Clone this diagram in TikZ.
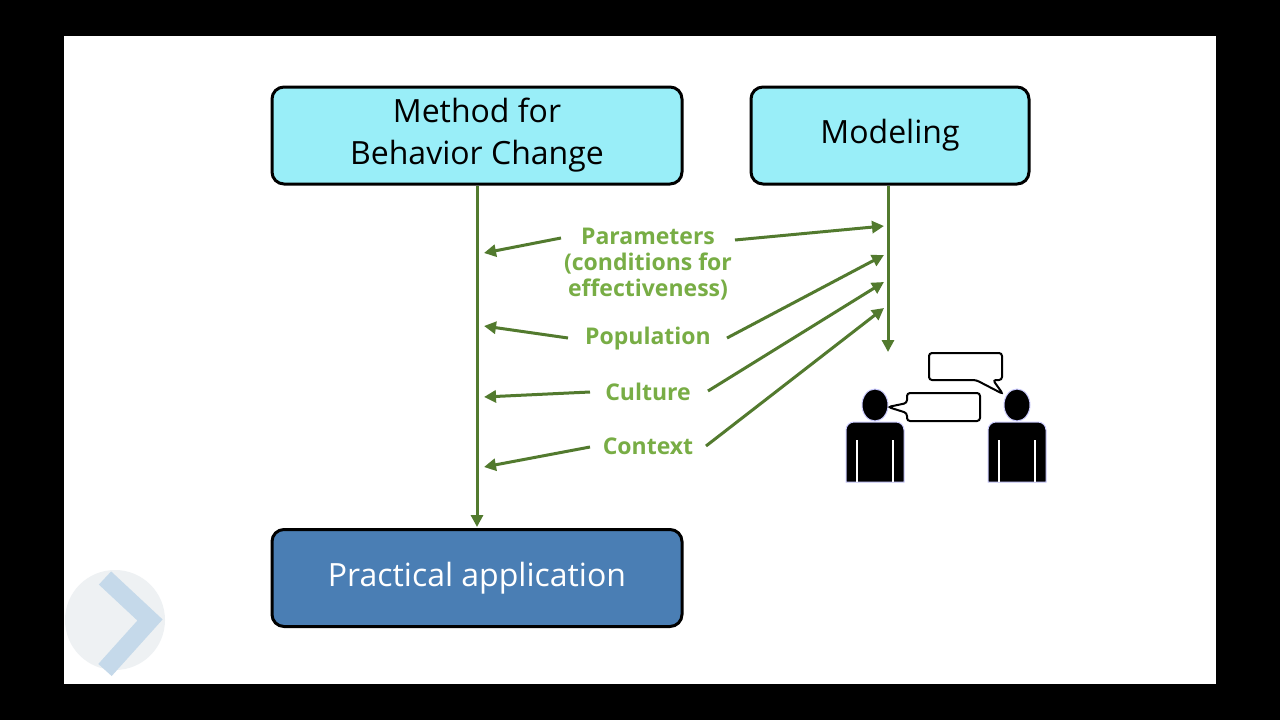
\documentclass[tikz,border=0pt]{standalone}
\usepackage{fontspec}
\setmainfont{Open Sans}
\usetikzlibrary{arrows.meta}
\definecolor{cy}{HTML}{99EEF8}
\definecolor{pa}{HTML}{4A7EB4}
\definecolor{gl}{HTML}{527A2E}
\definecolor{gt}{HTML}{78AD45}
\definecolor{lg}{HTML}{EEF1F3}
\definecolor{lb}{HTML}{C5D9EA}
\begin{document}
\begin{tikzpicture}[x=1pt,y=-1pt,
 box/.style={draw=black,line width=3pt,rounded corners=12pt,minimum height=97pt,align=center,font=\fontsize{32}{42}\selectfont,inner sep=0pt},
 arr/.style={draw=gl,line width=3pt,-{Triangle[length=12pt,width=12pt]}},
 lab/.style={text=gt,font=\fontsize{23}{26}\selectfont\bfseries,align=center,inner sep=0pt},
 bub/.style={draw=black,line width=2pt,fill=white,rounded corners=3pt}]
\useasboundingbox (0,0) rectangle (1280,720);
\fill[black] (0,0) rectangle (1280,720);
\fill[white] (64,36) rectangle (1216,684);
\begin{scope}
\clip (64,36) rectangle (1216,684);
\fill[lg] (115,620) circle (50);
\draw[lb,line width=18pt] (105,578) -- (150,620) -- (105,670);
\end{scope}
\node[box,fill=cy,minimum width=410pt] (m) at (477,135.5) {Method for\\Behavior Change};
\node[box,fill=cy,minimum width=278pt] (mo) at (890,135.5) {Modeling};
\node[box,fill=pa,text=white,minimum width=410pt] (p) at (477,578) {Practical application};
\coordinate (pt) at (477,527);
\draw[arr] (m.south) -- (pt);
\coordinate (mt) at (888,352);
\draw[arr] (mo.south -| mt) -- (mt);
\node[lab] (l1) at (648,264) {Parameters\\(conditions for\\effectiveness)};
\node[lab] (l2) at (648,339) {Population};
\node[lab] (l3) at (648,392) {Culture};
\node[lab] (l4) at (648,446) {Context};
\coordinate (a1) at (484,253); \coordinate (a2) at (484,326);
\coordinate (a3) at (484,397); \coordinate (a4) at (484,467);
\coordinate (b1) at (884,226); \coordinate (b2) at (884,255);
\coordinate (b3) at (884,282); \coordinate (b4) at (884,308);
\draw[arr] (561,238) -- (a1); \draw[arr] (735,240) -- (b1);
\draw[arr] (568,338) -- (a2); \draw[arr] (727,338) -- (b2);
\draw[arr] (590,392) -- (a3); \draw[arr] (708,391) -- (b3);
\draw[arr] (590,447) -- (a4); \draw[arr] (706,446) -- (b4);
% people
\foreach \c in {875,1017}{
 \fill[black,draw=blue!20,line width=1pt] (\c,405) ellipse (13 and 16);
 \fill[black,draw=blue!20,line width=1pt] (\c-29,482) -- (\c-29,430) arc(180:270:8) -- (\c+21,422) arc(270:360:8) -- (\c+29,482) -- cycle;
 \draw[white,line width=2pt] (\c-18,440) -- (\c-18,482) (\c+18,440) -- (\c+18,482);
}
\draw[bub] (929,353) -- (1002,353) -- (1002,380) -- (993,380) -- (1003,394) -- (976,380) -- (929,380) -- cycle;
\draw[bub] (907,393) -- (980,393) -- (980,421) -- (907,421) -- (907,413) -- (888,407) -- (907,403) -- cycle;
\end{tikzpicture}
\end{document}
